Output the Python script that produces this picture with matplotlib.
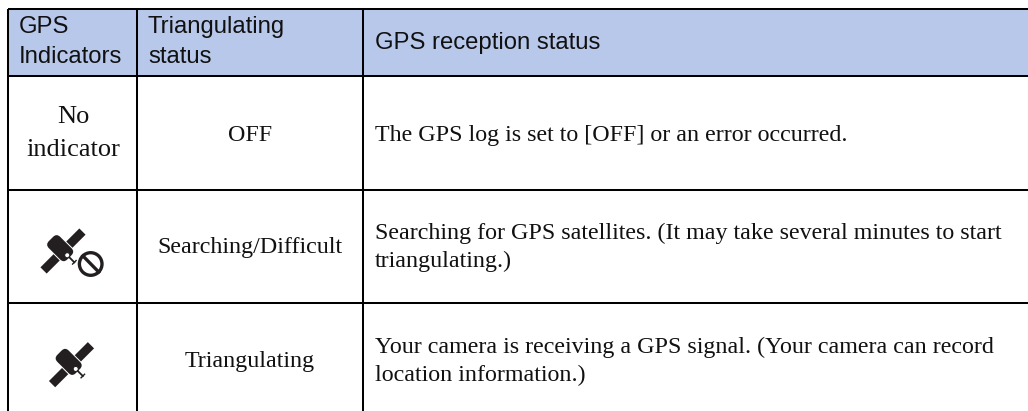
import matplotlib
matplotlib.use('Agg')
import matplotlib.pyplot as plt
from matplotlib.patches import Circle, Rectangle, FancyBboxPatch
from matplotlib.transforms import Affine2D

# table text
headers = ['GPS\nIndicators', 'Triangulating\nstatus', 'GPS reception status']
indicator_text = 'No\nindicator'
status_labels = ['OFF', 'Searching/Difficult', 'Triangulating']
reception_labels = [
    'The GPS log is set to [OFF] or an error occurred.',
    'Searching for GPS satellites. (It may take several minutes to start\ntriangulating.)',
    'Your camera is receiving a GPS signal. (Your camera can record\nlocation information.)',
]

# grid lines in pixels
col_x = [8, 137, 363]
row_y = [9, 76, 190, 303]
W, H = 1028, 411

fig = plt.figure(figsize=(W / 100, H / 100), dpi=100)
ax = fig.add_axes([0, 0, 1, 1])
ax.set_xlim(0, W)
ax.set_ylim(H, 0)
ax.axis('off')

lw = 1.45
sans = 'Liberation Sans'
serif = 'Liberation Serif'
ink = '#111111'
icon = '#231f20'


# one text call per line, so the baselines land where they should
def put_lines(x, y, text, pitch, **kw):
    for i, line in enumerate(text.split('\n')):
        ax.text(x, y + i * pitch, line, va='baseline', color=ink, **kw)


# header band
ax.add_patch(Rectangle((col_x[0], row_y[0]), W - col_x[0], row_y[1] - row_y[0], color='#b8c8ea', lw=0))

for y in row_y:
    ax.plot([col_x[0], W], [y, y], color='black', lw=lw, solid_capstyle='butt')
for x in col_x:
    ax.plot([x, x], [row_y[0], H], color='black', lw=lw, solid_capstyle='butt')

# header labels
put_lines(col_x[0] + 11, 33, headers[0], 30, family=sans, fontsize=17.2)
put_lines(col_x[1] + 11, 33, headers[1], 30, family=sans, fontsize=17.2)
put_lines(col_x[2] + 12, 49, headers[2], 30, family=sans, fontsize=17.2)

# body
put_lines(73, 123, indicator_text, 33, family=serif, fontsize=19, ha='center')
status_base = [140.5, 253, 367]
reception_base = [140.5, 239, 353]
for sy, ry, s, r in zip(status_base, reception_base, status_labels, reception_labels):
    put_lines(250, sy, s, 28, family=serif, fontsize=17.3, ha='center')
    put_lines(col_x[2] + 12, ry, r, 28, family=serif, fontsize=17.3, ha='left')


def satellite(cx, cy):
    # GPS icon, panels run lower left to upper right
    tr = Affine2D().rotate_deg(-45).translate(cx, cy) + ax.transData
    ax.add_patch(Rectangle((-27.5, -4.4), 18.5, 8.8, color=icon, lw=0, transform=tr))
    ax.add_patch(Rectangle((9, -4.4), 18.5, 8.8, color=icon, lw=0, transform=tr))
    ax.add_patch(FancyBboxPatch((-8, -17), 16, 26, boxstyle='round,pad=0,rounding_size=5', color=icon, lw=0, transform=tr))
    ax.add_patch(Circle((0, 6), 2.6, facecolor='white', edgecolor=icon, lw=0.8, transform=tr))
    ax.plot([0, 0], [9, 16], color=icon, lw=1.3, transform=tr)
    ax.plot([-2.5, 2.5], [16, 16], color=icon, lw=1.0, transform=tr)


satellite(63, 251)
ax.add_patch(Circle((90.7, 264), 11.3, facecolor='none', edgecolor=icon, lw=2.4))
ax.plot([83, 98.7], [256, 272], color=icon, lw=2.4)
satellite(71.5, 364.7)

fig.savefig('out.png', dpi=100)
